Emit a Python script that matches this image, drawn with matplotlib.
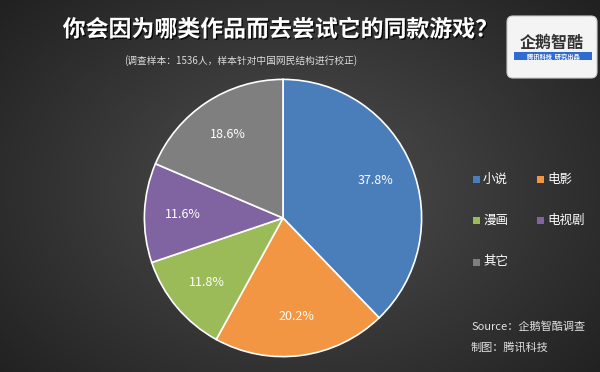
import numpy as np
import matplotlib
matplotlib.use("Agg")
import matplotlib.pyplot as plt
from matplotlib.patches import FancyBboxPatch, Rectangle
import matplotlib.patheffects as pe

plt.rcParams['font.family'] = ['Noto Sans CJK SC', 'DejaVu Sans']

categories = ["小说", "电影", "漫画", "电视剧", "其它"]
values = [37.8, 20.2, 11.8, 11.6, 18.6]
colors = ["#4a7ebb", "#f39643", "#9bbb59", "#8064a2", "#7f7f7f"]
title = "你会因为哪类作品而去尝试它的同款游戏？"
subtitle = "(调查样本：1536人，样本针对中国网民结构进行校正)"
source_lines = ["Source：企鹅智酷调查", "制图：腾讯科技"]

W, H = 600, 372
fig = plt.figure(figsize=(6, 3.72), dpi=100)

# background gradient
bg = fig.add_axes([0, 0, 1, 1])
yy, xx = np.mgrid[0:H, 0:W]
d = np.sqrt(((xx - 300) / 420) ** 2 + ((yy - 190) / 300) ** 2)
v = 0.31 - 0.19 * np.clip(d, 0, 1)
img = np.dstack([v, v, v])
bg.imshow(img, extent=[0, W, H, 0], aspect='auto')
bg.set_xlim(0, W)
bg.set_ylim(H, 0)
bg.axis('off')

# pie
cx, cy, r = 283, 218, 140
ax = fig.add_axes([(cx - r) / W, 1 - (cy + r) / H, 2 * r / W, 2 * r / H])
wedges, texts = ax.pie(values, colors=colors, startangle=90, counterclock=False,
                       wedgeprops=dict(edgecolor='white', linewidth=1.2))
for w, val in zip(wedges, values):
    ang = np.deg2rad((w.theta1 + w.theta2) / 2)
    ax.text(0.72 * np.cos(ang), 0.72 * np.sin(ang), f"{val}%", ha='center', va='center',
            color='white', fontsize=9)
ax.set_xlim(-1.01, 1.01)
ax.set_ylim(-1.01, 1.01)
ax.set_aspect('auto')
ax.axis('off')

# title
bg.text(280, 30, title, ha='center', va='center', color='white', fontsize=16.5,
        fontweight='bold',
        path_effects=[pe.withSimplePatchShadow(offset=(1, -1), shadow_rgbFace='black', alpha=0.8)])
bg.text(241, 61, subtitle, ha='center', va='center', color='#dddddd', fontsize=7)

# legend
leg_pos = [(476, 179), (540, 179), (476, 220), (540, 220), (476, 262)]
for (lx, ly), c, lab in zip(leg_pos, colors, categories):
    bg.add_patch(Rectangle((lx - 3.5, ly - 3.5), 7, 7, facecolor=c, edgecolor='none'))
    bg.text(lx + 7, ly, lab, ha='left', va='center', color='white', fontsize=9)

# source
bg.text(471, 327, source_lines[0], ha='left', va='center', color='#e0e0e0',
        fontsize=8, style='italic')
bg.text(471, 347, source_lines[1], ha='left', va='center', color='#e0e0e0',
        fontsize=8, style='italic')

# logo
bg.add_patch(FancyBboxPatch((507, 16), 90, 62, boxstyle="round,pad=0,rounding_size=6",
                            facecolor='#f4f4f4', edgecolor='#cccccc', linewidth=0.8))
bg.text(552, 43, "企鹅智酷", ha='center', va='center', color='#333333', fontsize=11.5,
        fontweight='bold')
bg.add_patch(Rectangle((514, 52), 78, 8, facecolor='#2f6bd0', edgecolor='none'))
bg.text(553, 56, "腾讯科技  研究出品", ha='center', va='center', color='white', fontsize=4.5,
        fontweight='bold')

fig.savefig("out.png", dpi=100)
